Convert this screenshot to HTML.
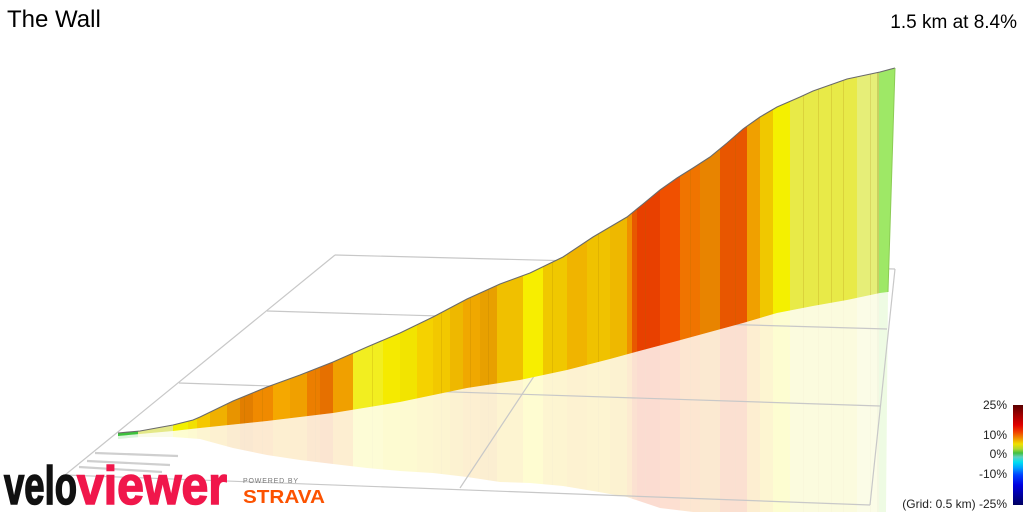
<!DOCTYPE html>
<html>
<head>
<meta charset="utf-8">
<style>
html,body{margin:0;padding:0;background:#fff;}
body{width:1024px;height:512px;overflow:hidden;}
svg{display:block;overflow:hidden;}
text{font-family:"Liberation Sans", Arial, sans-serif;}
</style>
</head>
<body>
<svg width="1024" height="512" viewBox="0 0 1024 512" xmlns="http://www.w3.org/2000/svg" xmlns:xlink="http://www.w3.org/1999/xlink">
<defs>
  <clipPath id="rib">
    <polygon points="118,433 140,431 173,425 193,420 200,417 233,401 267,387 300,375 333,362 367,347 400,333 433,317 467,299 500,284 530,273 563,257 593,237 627,217 643,204 660,190 677,178 693,168 710,157 727,143 743,129 760,117 777,107 800,97 813,91 847,79 880,72 895,68 888,292 880,293 847,300 813,306 777,313 743,323 710,332 677,341 643,350 610,359 567,370 520,380 467,388 400,402 333,413 267,421 200,428 173,431 140,434 118,436"/>
  </clipPath>
  <clipPath id="shd">
    <polygon points="118,436 140,434 173,431 200,428 267,421 333,413 400,402 467,388 520,380 567,370 610,359 643,350 677,341 710,332 743,323 777,313 813,306 847,300 880,293 888,292 886,512 700,512 693,512 660,508 627,497 593,491 563,486 530,483 500,482 467,477 433,473 400,471 367,468 333,464 300,460 267,455 233,448 200,439 173,437 140,437 118,439"/>
  </clipPath>
  <linearGradient id="leg" x1="0" y1="0" x2="0" y2="1">
    <stop offset="0" stop-color="#5a0000"/>
    <stop offset="0.10" stop-color="#a00000"/>
    <stop offset="0.20" stop-color="#e00000"/>
    <stop offset="0.27" stop-color="#f04000"/>
    <stop offset="0.32" stop-color="#f08000"/>
    <stop offset="0.39" stop-color="#f0e000"/>
    <stop offset="0.44" stop-color="#b0d830"/>
    <stop offset="0.48" stop-color="#40c040"/>
    <stop offset="0.52" stop-color="#60d0c0"/>
    <stop offset="0.57" stop-color="#00e0f0"/>
    <stop offset="0.63" stop-color="#00a0ff"/>
    <stop offset="0.70" stop-color="#0040ff"/>
    <stop offset="0.80" stop-color="#0000e0"/>
    <stop offset="1" stop-color="#000060"/>
  </linearGradient>
  <g id="stripes">
    <rect x="118" y="0" width="20" height="512" fill="#3cc23c"/>
    <rect x="138" y="0" width="35" height="512" fill="#e4e888"/>
    <rect x="173" y="0" width="15" height="512" fill="#f2f000"/>
    <rect x="188" y="0" width="9" height="512" fill="#f2e000"/>
    <rect x="197" y="0" width="13" height="512" fill="#f5c800"/>
    <rect x="210" y="0" width="17" height="512" fill="#f0b000"/>
    <rect x="227" y="0" width="13" height="512" fill="#e89400"/>
    <rect x="240" y="0" width="13" height="512" fill="#e27e00"/>
    <rect x="253" y="0" width="20" height="512" fill="#f08a00"/>
    <rect x="273" y="0" width="17" height="512" fill="#f5a800"/>
    <rect x="290" y="0" width="17" height="512" fill="#f0a000"/>
    <rect x="307" y="0" width="13" height="512" fill="#ec7e00"/>
    <rect x="320" y="0" width="13" height="512" fill="#e67000"/>
    <rect x="333" y="0" width="20" height="512" fill="#f0a000"/>
    <rect x="353" y="0" width="30" height="512" fill="#f2ee20"/>
    <rect x="383" y="0" width="17" height="512" fill="#f5ea00"/>
    <rect x="400" y="0" width="17" height="512" fill="#f2e400"/>
    <rect x="417" y="0" width="16" height="512" fill="#f5d200"/>
    <rect x="433" y="0" width="17" height="512" fill="#f2c800"/>
    <rect x="450" y="0" width="13" height="512" fill="#eeb800"/>
    <rect x="463" y="0" width="17" height="512" fill="#f0a800"/>
    <rect x="480" y="0" width="17" height="512" fill="#e8a000"/>
    <rect x="497" y="0" width="26" height="512" fill="#f0c000"/>
    <rect x="523" y="0" width="20" height="512" fill="#f7ee00"/>
    <rect x="543" y="0" width="24" height="512" fill="#f0c800"/>
    <rect x="567" y="0" width="20" height="512" fill="#f0b400"/>
    <rect x="587" y="0" width="23" height="512" fill="#f0c200"/>
    <rect x="610" y="0" width="17" height="512" fill="#eeb800"/>
    <rect x="627" y="0" width="5" height="512" fill="#f09000"/>
    <rect x="632" y="0" width="5" height="512" fill="#e85800"/>
    <rect x="637" y="0" width="23" height="512" fill="#e84000"/>
    <rect x="660" y="0" width="20" height="512" fill="#f05000"/>
    <rect x="680" y="0" width="20" height="512" fill="#f07400"/>
    <rect x="700" y="0" width="20" height="512" fill="#e88400"/>
    <rect x="720" y="0" width="27" height="512" fill="#e85600"/>
    <rect x="747" y="0" width="13" height="512" fill="#f0a000"/>
    <rect x="760" y="0" width="13" height="512" fill="#f0c800"/>
    <rect x="773" y="0" width="17" height="512" fill="#f4f000"/>
    <rect x="790" y="0" width="67" height="512" fill="#e8ea48"/>
    <rect x="857" y="0" width="20" height="512" fill="#e6ee78"/>
    <rect x="877" y="0" width="2" height="512" fill="#c8d060"/>
    <rect x="879" y="0" width="21" height="512" fill="#9ee866"/>
    <g fill="#a07000" opacity="0.18">
      <rect x="244" y="0" width="1" height="512"/>
      <rect x="262" y="0" width="1" height="512"/>
      <rect x="315" y="0" width="1" height="512"/>
      <rect x="372" y="0" width="1" height="512"/>
      <rect x="441" y="0" width="1" height="512"/>
      <rect x="470" y="0" width="1" height="512"/>
      <rect x="488" y="0" width="1" height="512"/>
      <rect x="552" y="0" width="1" height="512"/>
      <rect x="598" y="0" width="1" height="512"/>
      <rect x="645" y="0" width="1" height="512"/>
      <rect x="690" y="0" width="1" height="512"/>
      <rect x="735" y="0" width="1" height="512"/>
      <rect x="803" y="0" width="1" height="512"/>
      <rect x="818" y="0" width="1" height="512"/>
      <rect x="831" y="0" width="1" height="512"/>
      <rect x="843" y="0" width="1" height="512"/>
      <rect x="870" y="0" width="1" height="512"/>
    </g>
  </g>
</defs>

<!-- reflection / shadow -->
<g clip-path="url(#shd)" opacity="0.18">
  <use href="#stripes" xlink:href="#stripes"/>
</g>

<!-- grid -->
<g stroke="#c8c8c8" stroke-width="1.2" fill="none">
  <line x1="335" y1="255" x2="895" y2="269"/>
  <line x1="267" y1="311" x2="887" y2="329"/>
  <line x1="179" y1="383" x2="880" y2="406"/>
  <line x1="65" y1="475" x2="870" y2="505"/>
  <line x1="335" y1="255" x2="65" y2="475"/>
  <line x1="611" y1="260" x2="460" y2="488"/>
  <line x1="895" y1="269" x2="870" y2="505"/>
</g>

<!-- ribbon -->
<g clip-path="url(#rib)">
  <use href="#stripes" xlink:href="#stripes"/>
</g>
<polyline fill="none" stroke="#6a6a6a" stroke-width="1.1" points="118,433 140,431 173,425 193,420 200,417 233,401 267,387 300,375 333,362 367,347 400,333 433,317 467,299 500,284 530,273 563,257 593,237 627,217 643,204 660,190 677,178 693,168 710,157 727,143 743,129 760,117 777,107 800,97 813,91 847,79 880,72 895,68"/>
<line x1="895" y1="68" x2="888" y2="292" stroke="#8ccc55" stroke-width="1"/>

<!-- ghost lines -->
<g stroke="#cfcfcf" stroke-width="2.2" fill="none">
  <line x1="95" y1="453" x2="178" y2="456"/>
  <line x1="87" y1="461" x2="170" y2="465"/>
  <line x1="79" y1="467" x2="162" y2="472"/>
</g>

<!-- titles -->
<text x="7" y="27" font-size="24" fill="#000">The Wall</text>
<text x="1017" y="28" font-size="19" fill="#000" text-anchor="end">1.5 km at 8.4%</text>

<!-- logo -->
<text x="4" y="504" font-size="54" font-weight="bold" fill="#111" stroke="#111" stroke-width="1.6" textLength="73" lengthAdjust="spacingAndGlyphs">velo</text>
<text x="77" y="504" font-size="54" font-weight="bold" fill="#f0174b" stroke="#f0174b" stroke-width="1.6" textLength="150" lengthAdjust="spacingAndGlyphs">viewer</text>
<text x="243" y="483" font-size="7" fill="#777" textLength="55" lengthAdjust="spacing">POWERED BY</text>
<text x="243" y="503" font-size="18" font-weight="bold" fill="#fc5200" textLength="82" lengthAdjust="spacingAndGlyphs">STRAVA</text>

<!-- legend -->
<rect x="1013" y="405" width="10" height="100" fill="url(#leg)"/>
<g font-size="12" fill="#222" text-anchor="end">
  <text x="1007" y="409">25%</text>
  <text x="1007" y="439">10%</text>
  <text x="1007" y="458">0%</text>
  <text x="1007" y="478">-10%</text>
  <text x="1007" y="508">(Grid: 0.5 km) -25%</text>
</g>
</svg>
</body>
</html>
